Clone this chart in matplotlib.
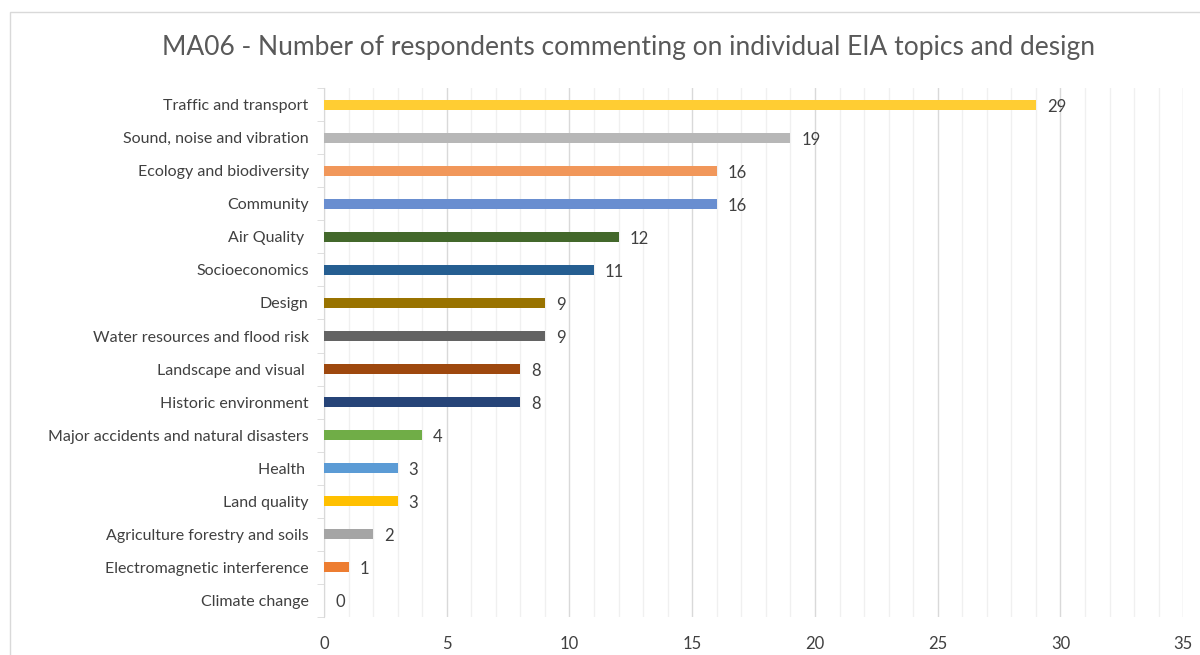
import numpy as np
import matplotlib
matplotlib.use('Agg')
import matplotlib.pyplot as plt
from matplotlib.ticker import MultipleLocator
from matplotlib.patches import Rectangle

plt.rcParams['font.family'] = ['Lato', 'DejaVu Sans']

# === Data (top to bottom) ===
TOPICS = [
    "Traffic and transport",
    "Sound, noise and vibration",
    "Ecology and biodiversity",
    "Community",
    "Air Quality ",
    "Socioeconomics",
    "Design",
    "Water resources and flood risk",
    "Landscape and visual ",
    "Historic environment",
    "Major accidents and natural disasters",
    "Health ",
    "Land quality",
    "Agriculture forestry and soils",
    "Electromagnetic interference",
    "Climate change",
]
COUNTS = [29, 19, 16, 16, 12, 11, 9, 9, 8, 8, 4, 3, 3, 2, 1, 0]
COLORS = [
    '#FFCD33', '#B7B7B7', '#F1975A', '#698ED0', '#43682B', '#255E91',
    '#997300', '#636363', '#9E480E', '#264478', '#70AD47', '#5B9BD5',
    '#FFC000', '#A5A5A5', '#ED7D31', '#4472C4',
]
TITLE = "MA06 - Number of respondents commenting on individual EIA topics and design"

TEXT = '#404040'

fig = plt.figure(figsize=(12, 6.55), dpi=100)
fig.patch.set_facecolor('white')

# chart frame
fig.patches.append(Rectangle((10 / 1200, -0.01), 1.2, 1 - 12 / 655 + 0.01,
                             transform=fig.transFigure, fill=False,
                             edgecolor='#D9D9D9', linewidth=1.0))

ax = fig.add_axes([0.27, 0.058, 0.716, 0.8075])

y = np.arange(len(TOPICS))
ax.barh(y, COUNTS, height=0.3, color=COLORS, zorder=3)
for yi, v in zip(y, COUNTS):
    ax.text(v + 0.45, yi + 0.06, str(v), va='center', ha='left',
            fontsize=12, color=TEXT, zorder=4)

ax.set_xlim(0, 35)
ax.set_ylim(len(TOPICS) - 0.5, -0.5)
ax.xaxis.set_major_locator(MultipleLocator(5))
ax.xaxis.set_minor_locator(MultipleLocator(1))
ax.grid(which='major', axis='x', color='#D9D9D9', linewidth=1.0, zorder=0)
ax.grid(which='minor', axis='x', color='#F0F0F0', linewidth=1.0, zorder=0)

ax.set_yticks(y)
ax.set_yticklabels(TOPICS, fontsize=11.5, color=TEXT)
ax.set_yticks(np.arange(len(TOPICS) + 1) - 0.5, minor=True)
ax.tick_params(axis='y', which='major', length=0, pad=11)
ax.tick_params(axis='y', which='minor', length=5, color='#D9D9D9')
ax.tick_params(axis='x', which='both', length=0, pad=14,
               labelsize=12, labelcolor=TEXT)

for side in ['top', 'right', 'bottom']:
    ax.spines[side].set_visible(False)
ax.spines['left'].set_color('#D9D9D9')

fig.text(0.5 + 0.024, 1 - 48 / 655, TITLE, ha='center', va='center',
         fontsize=19, color='#595959')

fig.savefig('out.png', dpi=100, facecolor='white')
